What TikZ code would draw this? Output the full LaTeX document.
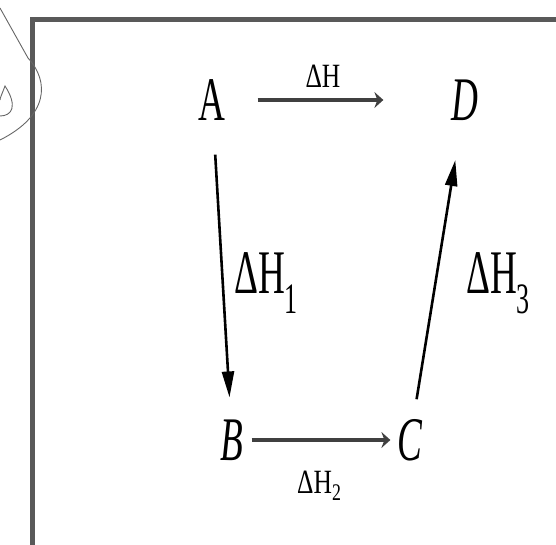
\documentclass[tikz,border=0pt]{standalone}
\usepackage{fontspec}
\setmainfont{Liberation Serif}
\newfontfamily\condfont[FakeStretch=0.6]{Liberation Serif}
\newfontfamily\halfcondfont[FakeStretch=0.75]{Liberation Serif}
\usetikzlibrary{arrows.meta}

\begin{document}
\begin{tikzpicture}[x=1pt, y=-1pt, inner sep=0pt,
    big/.style={font=\condfont\fontsize{62}{70}\selectfont},
    small/.style={font=\halfcondfont\fontsize{34}{38}\selectfont},
    vert/.style={line width=2.6pt, -{Triangle[length=26pt,width=12pt]}},
    horiz/.style={line width=3.6pt, black!75, -{Stealth[length=9pt,width=16pt,inset=3pt]}}]
  \useasboundingbox (0,0) rectangle (556,545);
  % frame and pen stroke
  \draw[line width=5pt, black!65] (32,545) -- (32,20) -- (556,20);
  \draw[black!60, line width=0.9pt] (0,8) -- (28,58) .. controls (50,82) and (48,116) .. (0,140);
  \draw[black!60, line width=0.9pt] (0,116) .. controls (12,116) and (18,106) .. (5,86) .. controls (2,94) and (0,98) .. (0,100);
  % states
  \node[big] (A) at (212,100) {A};
  \node[big] (D) at (465,100) {\itshape D};
  \node[big] (B) at (232,440) {\itshape B};
  \node[big] (C) at (410,440) {\itshape C};
  % steps
  \draw[horiz, shorten <=32pt, shorten >=68pt] (A) -- (D);
  \draw[vert, shorten <=34pt, shorten >=22pt] (A) -- (B);
  \draw[horiz, shorten <=8pt, shorten >=7pt] (B) -- (C);
  \draw[vert, shorten <=20pt, shorten >=40pt] (C) -- (D);
  % enthalpies
  \node[small, anchor=base] (h) at (323,88) {ΔH};
  \node[big, anchor=base west] (h1) at (234,293) {ΔH\textsubscript{1}};
  \node[small, anchor=base west] (h2) at (297,493) {ΔH\textsubscript{2}};
  \node[big, anchor=base west] (h3) at (466,293) {ΔH\textsubscript{3}};
\end{tikzpicture}
\end{document}
